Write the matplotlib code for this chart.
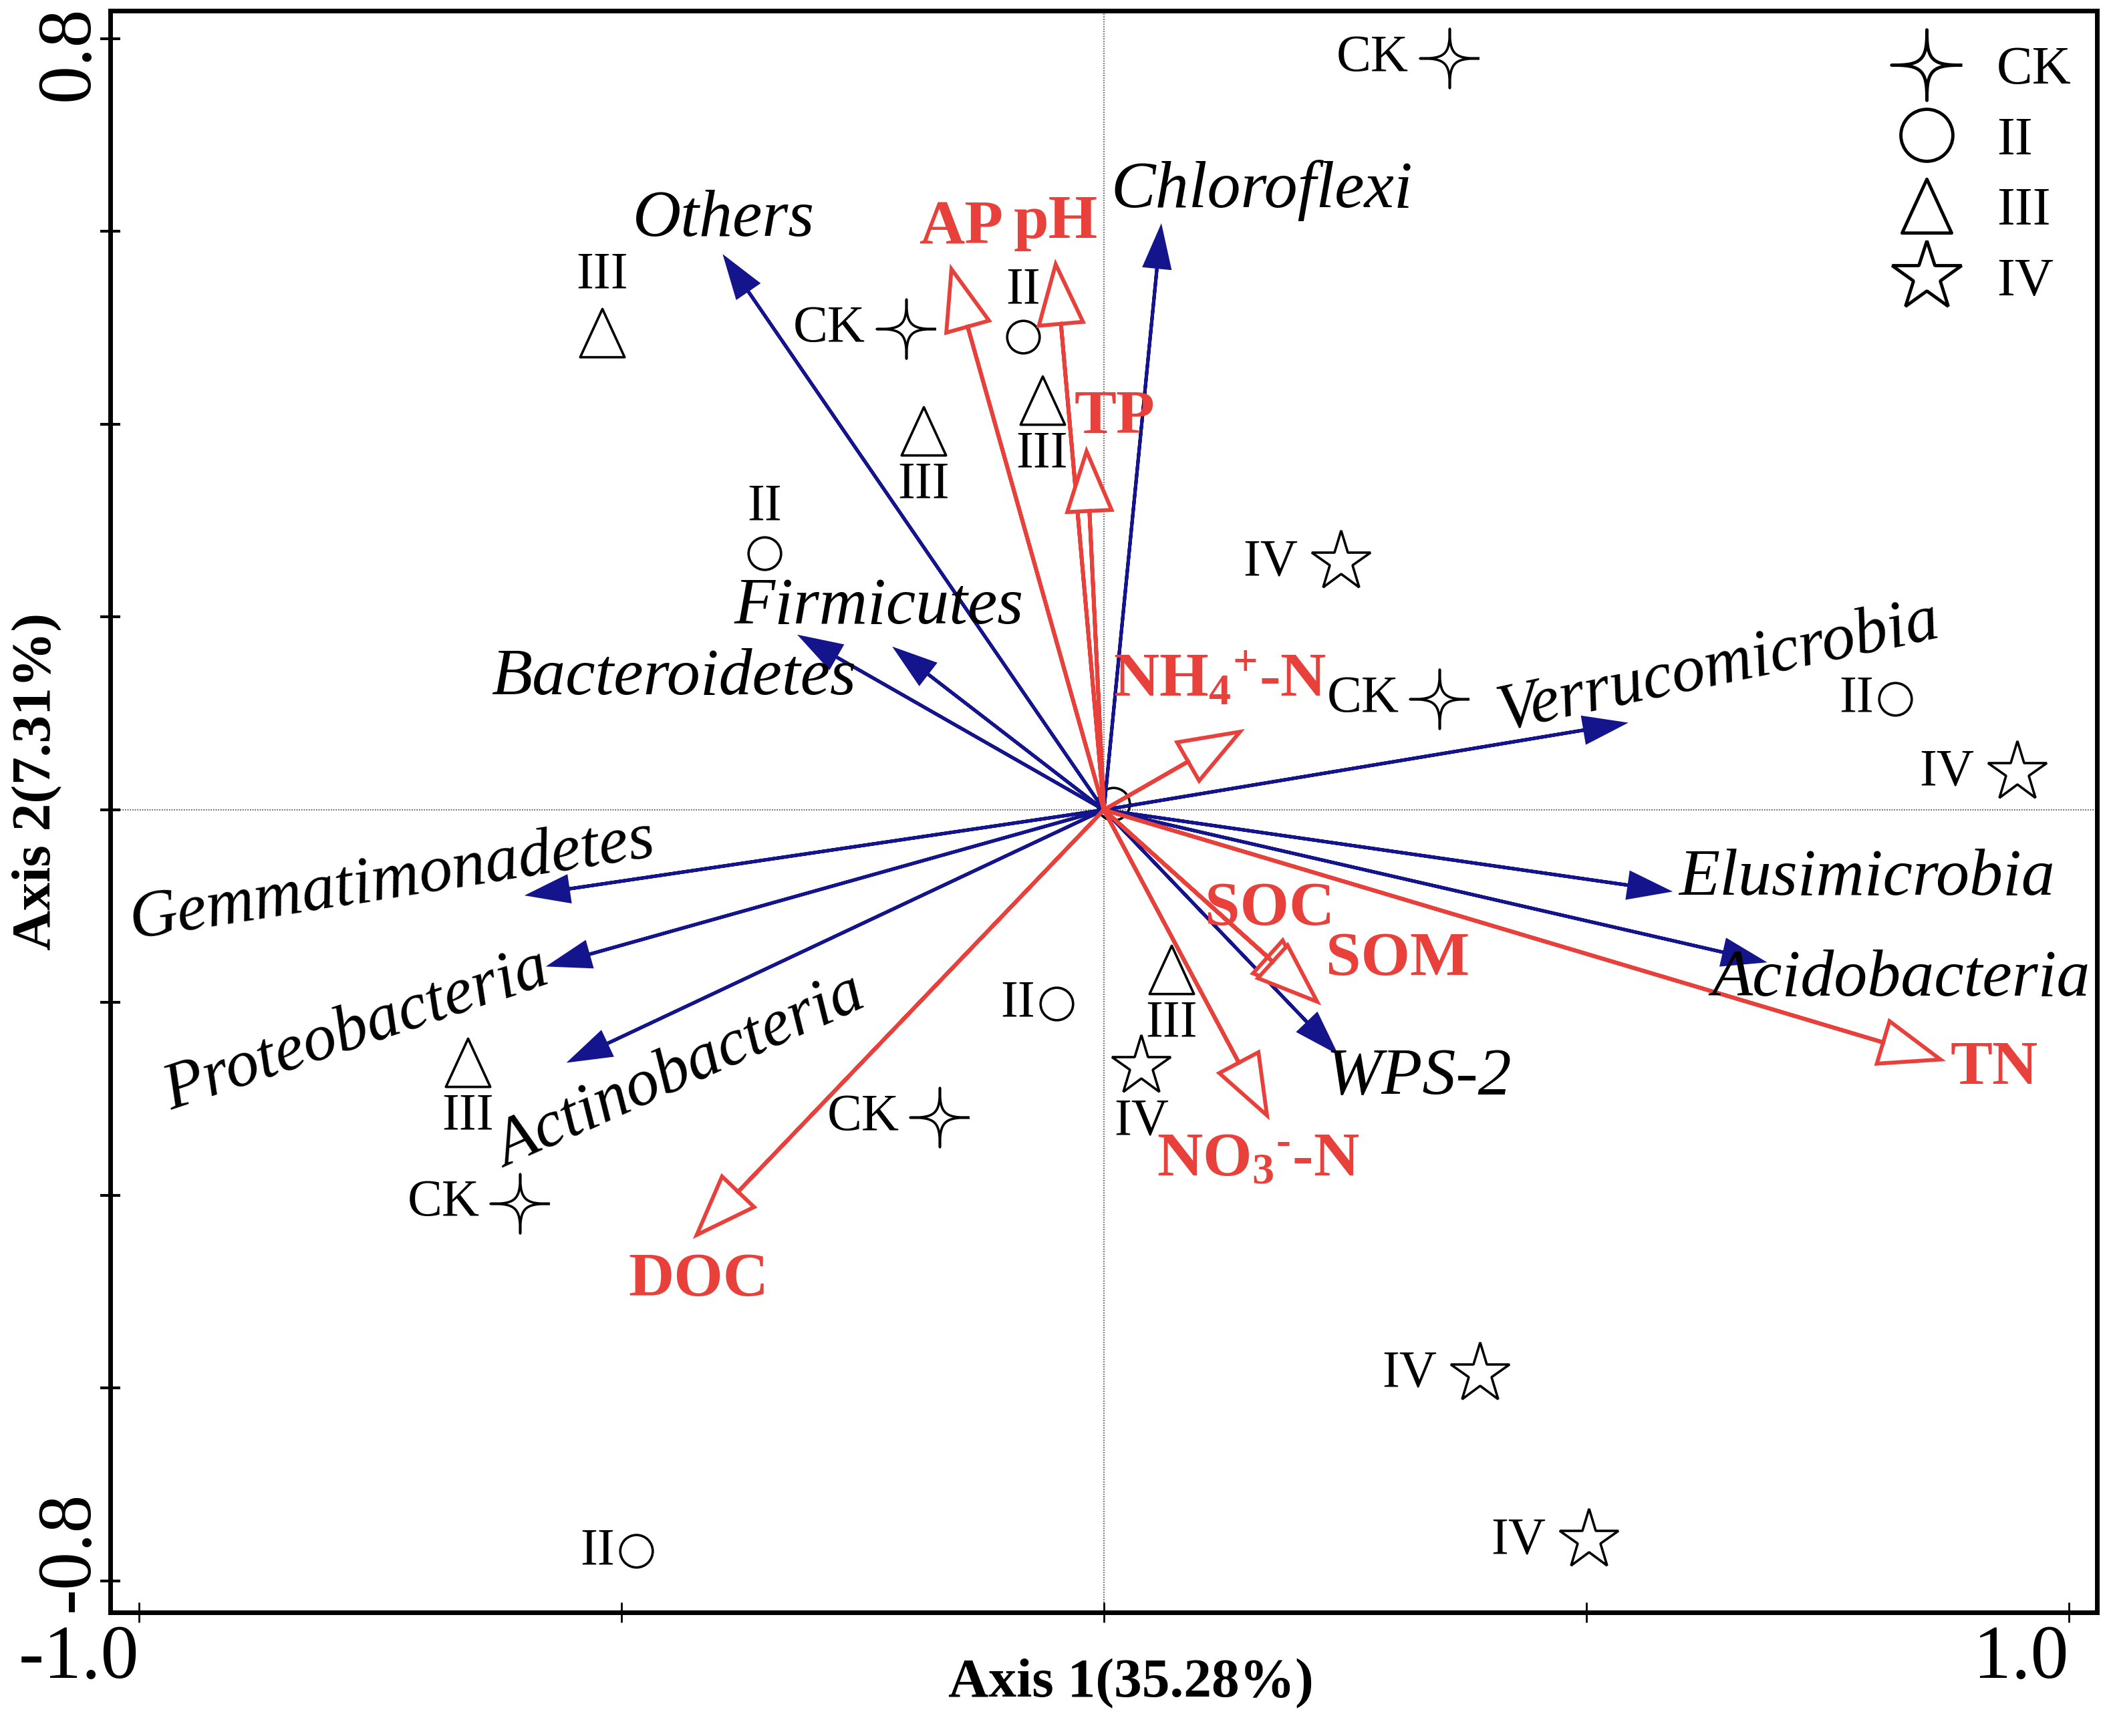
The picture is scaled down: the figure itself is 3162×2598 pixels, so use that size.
import numpy as np
import matplotlib
matplotlib.use('Agg')
import matplotlib.pyplot as plt
from matplotlib.path import Path
from matplotlib.lines import Line2D

plt.rcParams['font.family'] = ['Liberation Serif', 'DejaVu Serif']
plt.rcParams['mathtext.fontset'] = 'custom'
plt.rcParams['mathtext.rm'] = 'Liberation Serif:bold'
plt.rcParams['mathtext.bf'] = 'Liberation Serif:bold'
plt.rcParams['mathtext.it'] = 'Liberation Serif:bold:italic'

# sample scores (axis 1, axis 2)
ck_x = [0.358, -0.205, 0.348, -0.170, -0.605]
ck_y = [0.780, 0.499, 0.115, -0.319, -0.408]
ii_x = [-0.084, -0.352, 0.820, -0.049, -0.485, 0.010]
ii_y = [0.491, 0.266, 0.115, -0.201, -0.769, 0.006]
iii_x = [-0.520, -0.187, -0.064, 0.070, -0.659]
iii_y = [0.495, 0.393, 0.425, -0.166, -0.262]
iv_x = [0.246, 0.947, 0.039, 0.390, 0.503]
iv_y = [0.257, 0.039, -0.266, -0.585, -0.758]

# phyla (species) arrows
phyla = ['Others', 'Chloroflexi', 'Firmicutes', 'Bacteroidetes', 'Verrucomicrobia',
         'Gemmatimonadetes', 'Proteobacteria', 'Actinobacteria', 'Elusimicrobia',
         'Acidobacteria', 'WPS-2']
phyla_x = [-0.392, 0.059, -0.215, -0.313, 0.538, -0.595, -0.573, -0.552, 0.584, 0.682, 0.239]
phyla_y = [0.572, 0.603, 0.166, 0.179, 0.0895, -0.088, -0.161, -0.260, -0.084, -0.157, -0.250]

# soil properties arrows
env = ['AP', 'pH', 'TP', r'NH$_\mathbf{4}$$^\mathbf{+}$-N', 'SOC', 'SOM',
       'NO$_\\mathbf{3}$$^\\mathbf{\u2010}$-N', 'TN', 'DOC']
env_x = [-0.158, -0.050, -0.018, 0.141, 0.216, 0.221, 0.169, 0.867, -0.422]
env_y = [0.561, 0.566, 0.372, 0.081, -0.194, -0.199, -0.317, -0.259, -0.441]

groups = ['CK', 'II', 'III', 'IV']
yticks = [-0.8, -0.6, -0.4, -0.2, 0, 0.2, 0.4, 0.6, 0.8]
xticks = [-1.0, -0.5, 0, 0.5, 1.0]

RED = '#e8403a'
BLUE = '#14148c'

# label layout
ck_side = ['left'] * 5
ii_side = ['above', 'above', 'left', 'left', 'left', None]
iii_side = ['above', 'below', 'below', 'below', 'below']
iv_side = ['left', 'left', 'below', 'left', 'left']

phyla_off = [(-2, 42), (109, 41), (-19, 46), (-138, -44), (103, 61), (-148, 15),
             (-209, -71), (118, -13), (215, 13), (150, -20), (91, -29)]
phyla_rot = [0, 0, 0, 0, 12, 9, 18.5, 24, 0, 0, 0]
env_off = [(10, 44), (0, 45), (30, 36), (-22, 55), (-46, 94), (87, 45), (-10, -49),
           (58, -10), (2, -49)]

# marker shapes
t = np.linspace(0, 2 * np.pi, 200)
cross4 = Path(np.column_stack([np.sign(np.cos(t)) * np.abs(np.cos(t)) ** 5,
                               np.sign(np.sin(t)) * np.abs(np.sin(t)) ** 5]) * 0.5)
tri = Path([(0, 0.5), (-0.46, -0.5), (0.46, -0.5), (0, 0.5)], closed=True)

marker_style = {
    'CK': dict(marker=cross4, ms=64),
    'II': dict(marker='o', ms=35),
    'III': dict(marker=tri, ms=52),
    'IV': dict(marker='*', ms=67),
}
legend_ms = {'CK': 76, 'II': 56, 'III': 58, 'IV': 78}

fig = plt.figure(figsize=(31.62, 25.98), dpi=100)
ax = fig.add_axes([0.05218, 0.07121, 0.9402, 0.92263])

ax.axhline(0, color='#444444', lw=1.2, ls=(0, (1, 1.2)), zorder=1)
ax.axvline(0, color='#444444', lw=1.2, ls=(0, (1, 1.2)), zorder=1)

# samples
gap = {'CK': {'left': 44}, 'II': {'left': 23, 'above': 50},
       'III': {'above': 62, 'below': -58}, 'IV': {'left': 47, 'below': -60}}
for g, xs, ys, sides in [('CK', ck_x, ck_y, ck_side), ('II', ii_x, ii_y, ii_side),
                         ('III', iii_x, iii_y, iii_side), ('IV', iv_x, iv_y, iv_side)]:
    ax.plot(xs, ys, ls='none', mfc='none', mec='black', mew=2.6, zorder=2,
            **marker_style[g])
    for x, y, s in zip(xs, ys, sides):
        if s is None:
            continue
        if s == 'left':
            ax.annotate(g, (x, y), xytext=(-gap[g]['left'], 0), textcoords='offset points',
                        ha='right', va='center', fontsize=56, zorder=4)
        else:
            ax.annotate(g, (x, y), xytext=(0, gap[g][s]), textcoords='offset points',
                        ha='center', va='center', fontsize=56, zorder=4)

# phyla arrows
for name, x, y, o, r in zip(phyla, phyla_x, phyla_y, phyla_off, phyla_rot):
    ax.arrow(0, 0, x, y, width=0, head_width=0.026, head_length=0.040,
             length_includes_head=True, fc=BLUE, ec=BLUE, lw=3.6, zorder=3)
    ax.annotate(name, (x, y), xytext=o, textcoords='offset points', ha='center',
                va='center', rotation=r, rotation_mode='anchor', fontsize=72,
                style='italic', zorder=4)

# environmental arrows
for name, x, y, o in zip(env, env_x, env_y, env_off):
    ax.arrow(0, 0, x, y, width=0, head_width=0.046, head_length=0.062,
             length_includes_head=True, fc='white', ec=RED, lw=4.2, zorder=3.5)
    ax.annotate(name, (x, y), xytext=o, textcoords='offset points', ha='center',
                va='center', fontsize=68, fontweight='bold', color=RED, zorder=4)

ax.set_xlim(-1.0298, 1.0291)
ax.set_ylim(-0.8326, 0.8291)

ax.set_xticks(xticks)
ax.set_xticklabels(['-1.0', '', '', '', '1.0'], ha='right')
ax.set_yticks(yticks)
ax.set_yticklabels([''] * len(yticks))
ax.tick_params(axis='both', direction='inout', length=22, width=3, labelsize=82)
ax.tick_params(axis='x', pad=2, width=2)
for sp in ax.spines.values():
    sp.set_linewidth(5)

# end labels of the y axis, rotated
ytrans = ax.get_yaxis_transform()
for v, dy in [(yticks[-1], -16), (yticks[0], 32)]:
    ax.annotate(f'{v:.1f}', (0, v), xycoords=ytrans, xytext=(-6.5, dy),
                textcoords='offset points', rotation=90, ha='right', va='center',
                fontsize=82, annotation_clip=False)

ax.set_xlabel('Axis 1(35.28%)', fontsize=60, fontweight='bold')
ax.xaxis.set_label_coords(0.5136, -0.029)
ax.set_ylabel('Axis 2(7.31%)', fontsize=60, fontweight='bold')
ax.yaxis.set_label_coords(-0.024, 0.5186)

handles = [Line2D([], [], ls='none', mfc='none', mec='black', mew=3.5,
                  marker=marker_style[g]['marker'], ms=legend_ms[g]) for g in groups]
ax.legend(handles, groups, loc='upper right', frameon=False, fontsize=58,
          handlelength=1.2, handletextpad=0.7, labelspacing=0.4, borderpad=0.4,
          borderaxespad=0, bbox_to_anchor=(0.998, 0.9915))

fig.savefig('out.png', dpi=100)
